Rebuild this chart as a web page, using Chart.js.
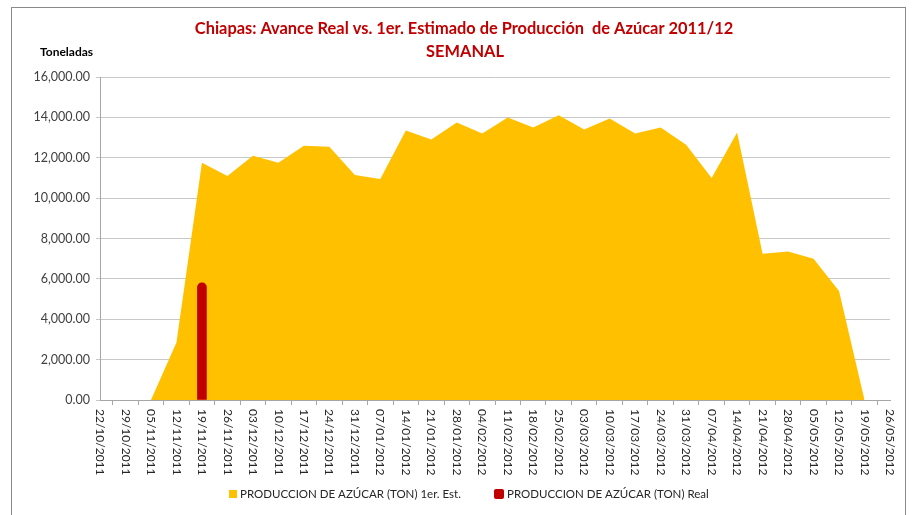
<!DOCTYPE html>
<html>
<head>
<meta charset="utf-8">
<script src="https://cdn.jsdelivr.net/npm/chart.js@4/dist/chart.umd.min.js"></script>
<style>
  body { margin: 0; background: #fff; }
  #wrap { width: 913px; height: 515px; }
</style>
</head>
<body>
<div id="wrap"><canvas id="chart" width="913" height="515"></canvas></div>
<script>
// weekly dates (x axis)
const semanas = [
    '22/10/2011', '29/10/2011', '05/11/2011', '12/11/2011', '19/11/2011', '26/11/2011',
    '03/12/2011', '10/12/2011', '17/12/2011', '24/12/2011', '31/12/2011', '07/01/2012',
    '14/01/2012', '21/01/2012', '28/01/2012', '04/02/2012', '11/02/2012', '18/02/2012',
    '25/02/2012', '03/03/2012', '10/03/2012', '17/03/2012', '24/03/2012', '31/03/2012',
    '07/04/2012', '14/04/2012', '21/04/2012', '28/04/2012', '05/05/2012', '12/05/2012',
    '19/05/2012', '26/05/2012'
];

// 1er. estimado (toneladas)
const estimado = [
    null, null, 0, 2850, 11750, 11100,
    12100, 11750, 12600, 12550, 11150, 10950,
    13350, 12900, 13750, 13200, 14000, 13500,
    14100, 13400, 13950, 13200, 13500, 12650,
    11000, 13250, 7250, 7350, 7000, 5400,
    0, null
];

// avance real (toneladas)
const real = [
    null, null, null, null, 5800, null,
    null, null, null, null, null, null,
    null, null, null, null, null, null,
    null, null, null, null, null, null,
    null, null, null, null, null, null,
    null, null
];

const yTicks = [0, 2000, 4000, 6000, 8000, 10000, 12000, 14000, 16000];

const titulo = ['Chiapas: Avance Real vs. 1er. Estimado de Producción  de Azúcar 2011/12', 'SEMANAL'];
const serieNombres = ['PRODUCCION DE AZÚCAR (TON) 1er. Est.', 'PRODUCCION DE AZÚCAR (TON) Real'];

const naranja = '#FFC000';
const rojo = '#C00000';

// draws frame, title, unit label, rotated date labels and legend
const extras = {
    id: 'extras',
    afterDraw(chart) {
        const ctx = chart.ctx;
        const x = chart.scales.x;
        ctx.save();

        // outer frame
        ctx.strokeStyle = '#8a8a8a';
        ctx.lineWidth = 1;
        ctx.strokeRect(11.5, 7.5, 894, 520);

        // title
        ctx.fillStyle = rojo;
        ctx.textAlign = 'center';
        ctx.textBaseline = 'middle';
        ctx.font = 'bold 16.4px Lato';
        ctx.fillText(titulo[0], 464, 29);
        ctx.fillText(titulo[1], 465, 52);

        // unit
        ctx.fillStyle = '#000';
        ctx.textAlign = 'left';
        ctx.font = 'bold 12px Lato';
        ctx.fillText('Toneladas', 40, 52);

        // date labels, rotated clockwise
        ctx.fillStyle = '#262626';
        ctx.font = '12px Lato';
        semanas.forEach((lbl, i) => {
            const px = x.getPixelForTick(i);
            ctx.save();
            ctx.translate(px, x.top + 9);
            ctx.rotate(Math.PI / 2);
            ctx.textAlign = 'left';
            ctx.textBaseline = 'middle';
            ctx.fillText(lbl, 0, 0);
            ctx.restore();
        });

        // legend
        ctx.font = '11.5px Lato';
        ctx.textBaseline = 'middle';
        ctx.fillStyle = naranja;
        ctx.fillRect(229, 490, 8, 8);
        ctx.fillStyle = '#262626';
        ctx.fillText(serieNombres[0], 240, 494);
        ctx.fillStyle = rojo;
        ctx.beginPath();
        ctx.roundRect(494, 489, 10, 10, 2);
        ctx.fill();
        ctx.fillStyle = '#262626';
        ctx.fillText(serieNombres[1], 507, 494);

        ctx.restore();
    }
};

const ctx = document.getElementById('chart').getContext('2d');
new Chart(ctx, {
    type: 'line',
    data: {
        labels: semanas,
        datasets: [{
            label: serieNombres[0],
            data: estimado,
            backgroundColor: naranja,
            borderColor: naranja,
            borderWidth: 0,
            pointRadius: 0,
            fill: 'origin',
            tension: 0,
            order: 2
        }, {
            type: 'bar',
            label: serieNombres[1],
            data: real,
            backgroundColor: rojo,
            barThickness: 9,
            borderRadius: { topLeft: 4.5, topRight: 4.5 },
            borderSkipped: 'bottom',
            order: 1
        }]
    },
    options: {
        responsive: false,
        animation: false,
        layout: { padding: { top: 77, left: 11, right: 23, bottom: 37 } },
        plugins: {
            legend: { display: false },
            title: { display: false },
            tooltip: { enabled: false }
        },
        scales: {
            x: {
                offset: false,
                grid: { drawOnChartArea: false, color: '#a6a6a6', tickLength: 5 },
                border: { color: '#a6a6a6' },
                ticks: { color: 'transparent', autoSkip: false, minRotation: 90, maxRotation: 90 },
                afterFit(scale) { scale.height = 78; }
            },
            y: {
                min: 0,
                max: 16000,
                afterBuildTicks(scale) { scale.ticks = yTicks.map(v => ({ value: v })); },
                grid: { color: '#c8c8c8', tickLength: 4 },
                border: { color: '#a6a6a6' },
                ticks: {
                    color: '#404040',
                    font: { family: 'Lato', size: 12.5 },
                    padding: 6,
                    callback: v => v.toLocaleString('en-US', { minimumFractionDigits: 2, maximumFractionDigits: 2 })
                },
                afterFit(scale) { scale.width = 89; }
            }
        }
    },
    plugins: [extras]
});
</script>
</body>
</html>
